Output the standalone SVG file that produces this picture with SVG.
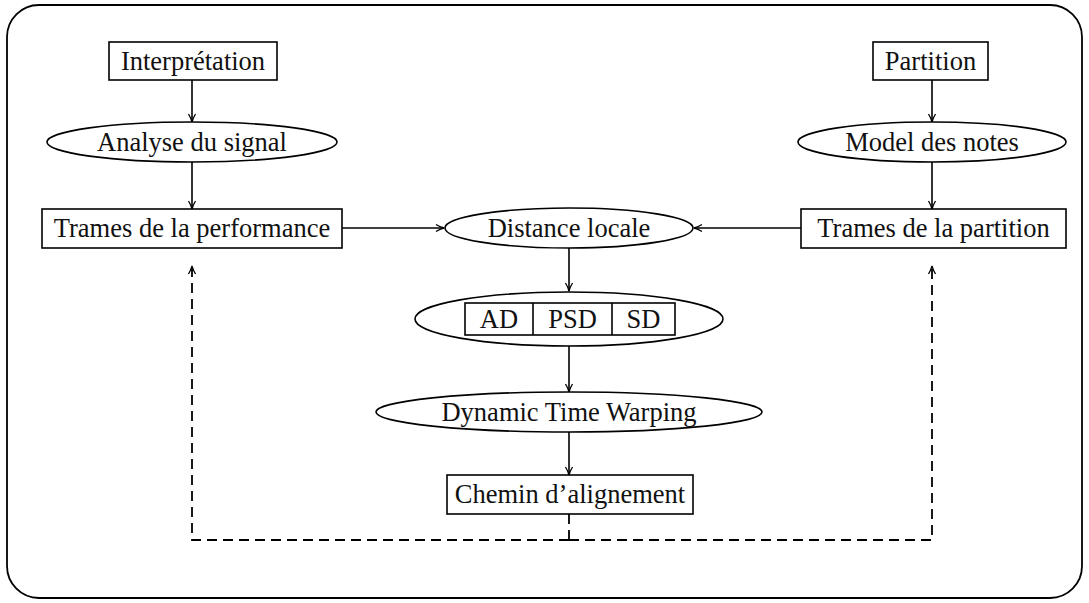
<svg xmlns="http://www.w3.org/2000/svg" width="1089" height="603" viewBox="0 0 1089 603">
<style>
.n{fill:#fff;stroke:#000;stroke-width:1.6}
.t{font-family:"Liberation Serif","Times New Roman",serif;font-size:26.5px;fill:#111;text-anchor:middle}
.c{fill:none;stroke:#000;stroke-width:1.6}
.d{fill:none;stroke:#000;stroke-width:1.8;stroke-dasharray:10 6}
</style>
<defs>
<marker id="ah" viewBox="0 0 10 10" refX="9" refY="5" markerWidth="10" markerHeight="10" markerUnits="userSpaceOnUse" orient="auto">
<path d="M1,1.5 Q5,4 9,5 Q5,6 1,8.5" fill="none" stroke="#000" stroke-width="1.3"/>
</marker>
</defs>
<rect x="7" y="5" width="1075" height="593" rx="32" ry="32" fill="#fff" stroke="#000" stroke-width="1.8"/>
<g id="connectors">
<line class="c" x1="192" y1="80" x2="192" y2="122" marker-end="url(#ah)"/>
<line class="c" x1="192" y1="162" x2="192" y2="209" marker-end="url(#ah)"/>
<line class="c" x1="932" y1="80" x2="932" y2="122" marker-end="url(#ah)"/>
<line class="c" x1="932" y1="162" x2="932" y2="209" marker-end="url(#ah)"/>
<line class="c" x1="342" y1="228" x2="444" y2="228" marker-end="url(#ah)"/>
<line class="c" x1="801" y1="228" x2="694" y2="228" marker-end="url(#ah)"/>
<line class="c" x1="569" y1="248" x2="569" y2="291" marker-end="url(#ah)"/>
<line class="c" x1="569" y1="346" x2="569" y2="392" marker-end="url(#ah)"/>
<line class="c" x1="569" y1="431" x2="569" y2="475" marker-end="url(#ah)"/>
<path class="d" d="M569,514 V540"/>
<path class="d" d="M569,540 H192 V266" marker-end="url(#ah)"/>
<path class="d" d="M569,540 H932 V266" marker-end="url(#ah)"/>
</g>
<g id="interpretation">
<rect class="n" x="109" y="42" width="168" height="38"/>
<text class="t" x="193" y="69.5">Interprétation</text>
</g>
<g id="analyse">
<ellipse class="n" cx="192" cy="142" rx="145" ry="20"/>
<text class="t" x="192" y="150.5">Analyse du signal</text>
</g>
<g id="trames-perf">
<rect class="n" x="42" y="209" width="300" height="39"/>
<text class="t" x="192" y="237">Trames de la performance</text>
</g>
<g id="partition">
<rect class="n" x="873" y="42" width="115" height="38"/>
<text class="t" x="930.5" y="69.5">Partition</text>
</g>
<g id="model">
<ellipse class="n" cx="932" cy="142" rx="134" ry="20"/>
<text class="t" x="932" y="150.5">Model des notes</text>
</g>
<g id="trames-part">
<rect class="n" x="801" y="209" width="265" height="39"/>
<text class="t" x="933.5" y="237">Trames de la partition</text>
</g>
<g id="distance">
<ellipse class="n" cx="569" cy="228" rx="124" ry="20"/>
<text class="t" x="569" y="236.5">Distance locale</text>
</g>
<g id="mesures">
<ellipse class="n" cx="569" cy="319" rx="154" ry="27"/>
<rect class="n" x="465" y="303" width="210" height="32"/>
<line class="c" x1="533" y1="303" x2="533" y2="335"/>
<line class="c" x1="612" y1="303" x2="612" y2="335"/>
<text class="t" x="499" y="328">AD</text>
<text class="t" x="572.5" y="328">PSD</text>
<text class="t" x="643.5" y="328">SD</text>
</g>
<g id="dtw">
<ellipse class="n" cx="569" cy="412" rx="193" ry="20"/>
<text class="t" x="569" y="420.5">Dynamic Time Warping</text>
</g>
<g id="chemin">
<rect class="n" x="447" y="475" width="246" height="39"/>
<text class="t" x="570" y="503">Chemin d’alignement</text>
</g>
</svg>
